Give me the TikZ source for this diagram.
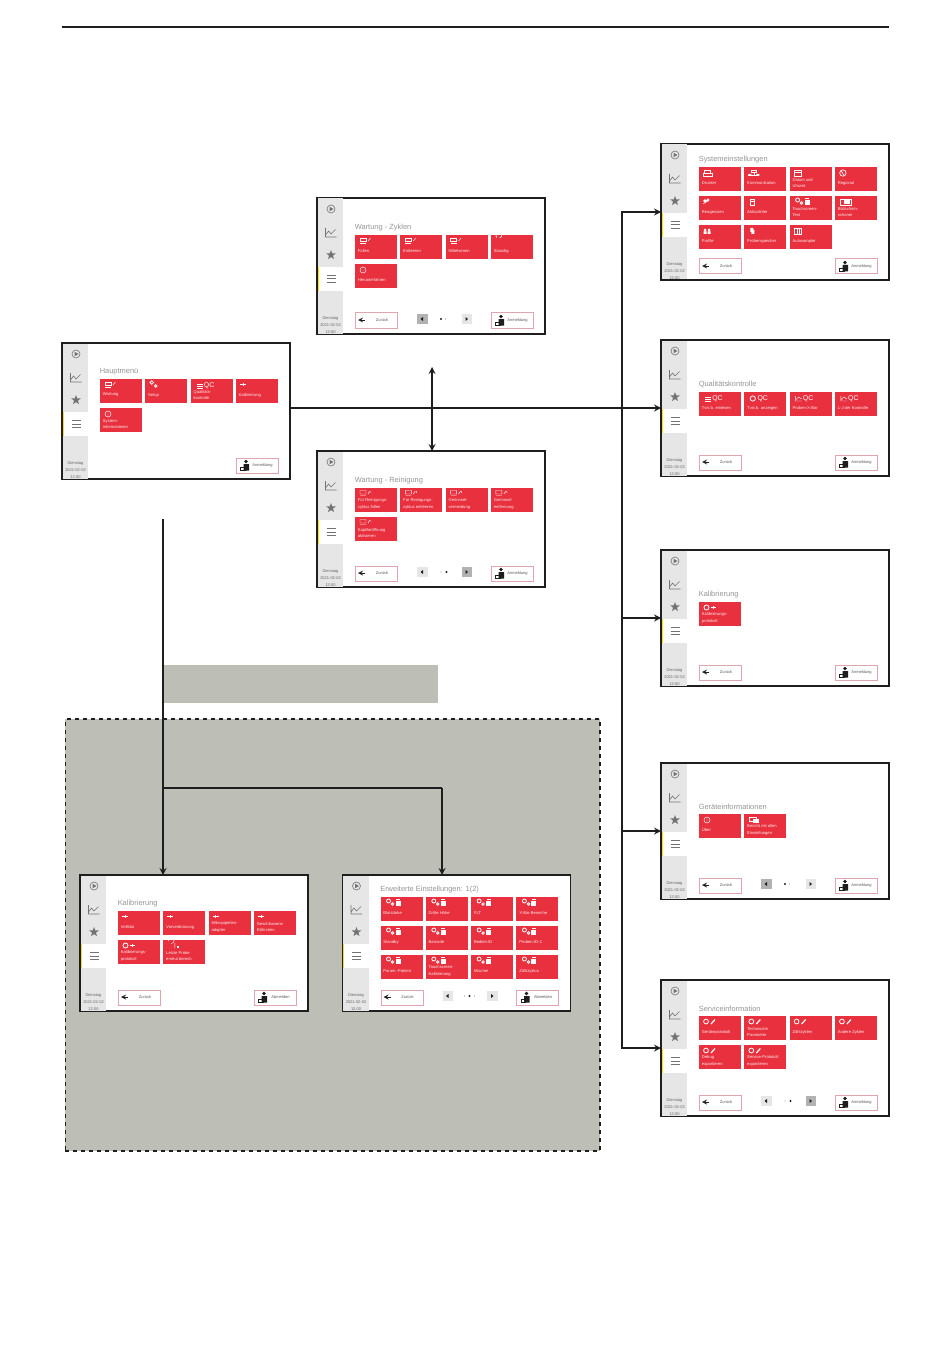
\documentclass[tikz,border=0pt]{standalone}
\usepackage{fontspec}
\setmainfont{Liberation Sans}
\usepackage{xcolor}
\usetikzlibrary{shapes,arrows,calc}
\definecolor{tilecolor}{RGB}{232,48,62}
\definecolor{sidecolor}{RGB}{230,230,230}
\definecolor{panelcolor}{RGB}{189,191,183}
\definecolor{titlecolor}{RGB}{150,150,150}
\definecolor{btncolor}{RGB}{225,165,175}
\definecolor{inkcolor}{RGB}{30,30,30}

\tikzset{
    screenbox/.style={rectangle, draw=inkcolor, fill=white, line width=0.8pt, anchor=north west, inner sep=0pt, outer sep=0pt, minimum width=171pt, minimum height=102pt},
    tilebox/.style={rectangle, fill=tilecolor, anchor=north west, inner sep=0pt, outer sep=0pt, minimum width=31.5pt, minimum height=18pt},
    tilelabel/.style={anchor=west, inner sep=0pt, align=left, text=white!92!tilecolor, font=\fontsize{3.1}{4.9}\selectfont},
    titlelabel/.style={anchor=west, inner sep=0pt, text=titlecolor, font=\fontsize{5.6}{6}\selectfont},
    datelabel/.style={inner sep=0pt, align=center, text=black!60, font=\fontsize{3}{5}\selectfont},
    btnbox/.style={rectangle, draw=btncolor, fill=white, line width=0.5pt, anchor=north west, inner sep=0pt, minimum width=31.5pt, minimum height=11.25pt},
    btnlabel/.style={inner sep=0pt, text=black!65, font=\fontsize{3}{4}\selectfont},
    pagebox/.style={rectangle, anchor=north west, inner sep=0pt, minimum width=7.8pt, minimum height=7.5pt},
    qclabel/.style={anchor=west, inner sep=0pt, text=white, font=\fontsize{5.2}{6}\selectfont},
    arrow/.style={->, >=stealth, line width=1.3pt, draw=inkcolor},
    wire/.style={line width=1.3pt, draw=inkcolor},
    icon/.style={draw=white, line width=0.35pt},
    side/.style={draw=black!55, line width=0.45pt},
    % icons on the tiles
    icomaint/.pic={\draw[icon] (5,3) rectangle (11,6.5) (5,8) -- (11,8); \fill[white] (5,3) rectangle (11,4.2); \draw[icon] (13,6) -- (15.5,3);},
    icowash/.pic={\draw[icon] (5,2.5) rectangle (11,6) (5,7.5) -- (11,7.5) (13,6) -- (15,3) (16,3) -- (16,5);},
    icogears/.pic={\draw[icon, line width=0.6pt] (6.5,3.5) circle (1.8) (10.5,7) circle (1.3);},
    icogearbox/.pic={\draw[icon, line width=0.6pt] (8,4) circle (2) (12,7) circle (1.3); \fill[white] (15,4) rectangle (20,9); \draw[icon] (15.5,2.5) -- (19.5,2.5);},
    icolines/.pic={\draw[icon] (6,5) -- (12,5) (6,7) -- (12,7) (6,9) -- (12,9); \node[qclabel] (qc) at (13,6.5) {QC};},
    icoround/.pic={\draw[icon, line width=0.6pt] (8.5,6.5) circle (2.6); \node[qclabel] (qc) at (13,6.5) {QC};},
    icoplot/.pic={\draw[icon] (6,4) -- (6,9) -- (12,9) (6,8) -- (9,5) -- (12,7); \node[qclabel] (qc) at (13,6.5) {QC};},
    icocal/.pic={\draw[icon] (4,5) -- (10,5) (7,3.5) -- (7,6.5);},
    icocalprot/.pic={\draw[icon, line width=0.6pt] (7.5,5.5) circle (2.5); \draw[icon] (11.5,5.5) -- (17,5.5) (14,4) -- (14,7);},
    icorepeat/.pic={\draw[icon] (8,3.5) arc (90:-190:2.8) (11.5,3) -- (11.5,8); \fill[white] (14,6) rectangle (16,8);},
    icoinfo/.pic={\draw[icon] (8,6) circle (3) (8,5.3) -- (8,7.5) (8,4) -- (8,4.5);},
    icostandby/.pic={\draw[icon, line width=0.5pt] (9,3) arc (70:-230:3);},
    icowrench/.pic={\draw[icon, line width=0.6pt] (7,5.5) circle (2.4); \draw[icon, line width=0.9pt] (12,8) -- (16,3.5);},
    icoprinter/.pic={\draw[icon] (5.5,3) rectangle (11,6) (4,6) rectangle (13,9);},
    iconet/.pic={\draw[icon] (7,3) rectangle (12,5) (4,8) -- (15,8) (9.5,5) -- (9.5,8); \fill[white] (4,7) rectangle (7,9) (12,7) rectangle (15,9);},
    icocalendar/.pic={\draw[icon] (5,3) rectangle (12,9) (5,5) -- (12,5);},
    icoglobe/.pic={\draw[icon, line width=0.5pt] (8,6) circle (3.2) (6,3.5) -- (9,8);},
    icoflask/.pic={\fill[white] (6,5) circle (1.8) (9,4) circle (1.6); \draw[icon] (4,8) -- (9,5);},
    icocounter/.pic={\draw[icon] (6,3) rectangle (10,9) (6,5) -- (10,5);},
    icoscreen/.pic={\draw[icon] (5,3) rectangle (16,9); \fill[white] (9,4) rectangle (15,8);},
    icopeople/.pic={\fill[white] (6,5) circle (1.5) (10,5) circle (1.5) (4.5,9) rectangle (7.5,6.5) (8.5,9) rectangle (11.5,6.5);},
    icodrop/.pic={\fill[white] (6,3) rectangle (9,7) (7,5) rectangle (10,9);},
    icorack/.pic={\draw[icon] (5,3) rectangle (12,9) (7.3,3) -- (7.3,9) (9.6,3) -- (9.6,9);},
    icoreport/.pic={\draw[icon] (5,3) rectangle (12,7); \fill[white] (9,5) rectangle (15,9);},
}

% one red tile: column, row, icon, label
\newcommand{\tile}[4]{%
    \node[tilebox] (\scrname-#1-#2) at ({38+45.3*#1},{\tiletop+29*#2}) {};
    \pic at (\scrname-#1-#2.north west) {#3};
    \node[tilelabel] (\scrname-#1-#2-text) at ([shift={(2pt,-3pt)}]\scrname-#1-#2.west) {#4};
}
\newcommand{\backbtn}{%
    \node[btnbox] (\scrname-back) at (38,114.5) {};
    \draw[line width=0.7pt, ->, >=stealth, draw=inkcolor] (48,122) -- (41,122);
    \node[btnlabel] (\scrname-backtext) at (65,122) {Zurück};
}
\newcommand{\outbtn}[1]{%
    \node[btnbox] (\scrname-out) at (173.5,114.5) {};
    \draw[draw=inkcolor, line width=0.3pt] (178.5,124) rectangle (183,127.5);
    \fill[inkcolor] (184,118.5) circle (1.9) (181.5,121) rectangle (187,127.5);
    \node[btnlabel] (\scrname-outtext) at (200.5,122) {#1};
}
% pager: colour left, colour right, dots as x/radius
\newcommand{\pager}[3]{%
    \node[pagebox, fill=#1] (\scrname-prev) at (100,116) {};
    \node[pagebox, fill=#2] (\scrname-next) at (144.5,116) {};
    \fill[inkcolor] (103.5,121) -- (106,119) -- (106,123) -- cycle;
    \fill[inkcolor] (151,121) -- (148.5,119) -- (148.5,123) -- cycle;
    \foreach \dotx/\dotr in {#3} {\fill[inkcolor] (\dotx,121) circle (\dotr);}
}
% screen: name, left, top, top of the tiles, title, body
\newcommand{\screen}[6]{%
\begin{scope}[shift={(#2,#3)}]
    \def\scrname{#1}
    \def\tiletop{#4}
    \node[screenbox] (#1) at (0,0) {};
    \fill[sidecolor] (0.5,0.5) rectangle (26,69);
    \fill[sidecolor] (0.5,93) rectangle (26,135.5);
    \fill[yellow!80!orange] (0.5,69) rectangle (1.6,93);
    \draw[side] (14,11) circle (4);
    \fill[black!55] (12.6,8.8) -- (16.6,11) -- (12.6,13.2) -- cycle;
    \draw[side] (8.5,30) -- (8.5,39) -- (19.5,39) (8.5,37) -- (11.5,33) -- (14,36) -- (18.5,31.5);
    \node[star, star points=5, star point ratio=2.4, fill=black!55, inner sep=0pt, minimum size=7.5pt] (#1-star) at (14,57) {};
    \draw[side] (9.5,77.5) -- (18.5,77.5) (9.5,80.8) -- (18.5,80.8) (9.5,84) -- (18.5,84);
    \node[datelabel] (#1-date) at (13.5,127) {Dienstag\\2021-02-02\\12:00};
    \node[titlelabel] (#1-title) at (37.5,{#4-7.5}) {#5};
    #6
\end{scope}
}

\begin{document}
\begin{tikzpicture}[x=0.75pt, y=-0.75pt]
\useasboundingbox (0,0) rectangle (950,1369);

% Header rule
\coordinate (ruleleft) at (62,27);
\coordinate (ruleright) at (889,27);
\draw[wire] (ruleleft) -- (ruleright);

% Grey areas
\node[rectangle, fill=panelcolor, anchor=north west, inner sep=0pt, minimum width=205pt, minimum height=28pt] (banner) at (164,665) {};
\node[rectangle, fill=panelcolor, draw=inkcolor, line width=1.4pt, dashed, anchor=north west, inner sep=0pt, minimum width=401pt, minimum height=324pt] (panel) at (64.5,718) {};

% Main menu
\screen{hauptmenu}{62}{343}{36}{Hauptmenü}{
    \tile{0}{0}{icomaint}{Wartung}
    \tile{1}{0}{icogears}{Setup}
    \tile{2}{0}{icolines}{Qualitäts-\\kontrolle}
    \tile{3}{0}{icocal}{Kalibrierung}
    \tile{0}{1}{icoinfo}{System-\\informationen}
    \outbtn{Anmeldung}
}

% Maintenance
\screen{zyklen}{317}{198}{37}{Wartung - Zyklen}{
    \tile{0}{0}{icomaint}{Füllen}
    \tile{1}{0}{icomaint}{Entleeren}
    \tile{2}{0}{icomaint}{Mittelvenen}
    \tile{3}{0}{icostandby}{Standby}
    \tile{0}{1}{icoinfo}{Herunterfahren}
    \backbtn
    \pager{black!30}{sidecolor}{124/1.1,128.5/0.4}
    \outbtn{Anmeldung}
}
\screen{reinigung}{317}{451}{37}{Wartung - Reinigung}{
    \tile{0}{0}{icowash}{Für Reinigungs-\\zyklus füllen}
    \tile{1}{0}{icowash}{Für Reinigungs-\\zyklus entleeren}
    \tile{2}{0}{icowash}{Gerinnsel-\\vermeidung}
    \tile{3}{0}{icowash}{Gerinnsel\\entfernung}
    \tile{0}{1}{icowash}{Kapillaröffnung\\aktivieren}
    \backbtn
    \pager{sidecolor}{black!30}{124/0.4,129.5/1.1}
    \outbtn{Anmeldung}
}

% Right column
\screen{system}{661}{144}{23}{Systemeinstellungen}{
    \tile{0}{0}{icoprinter}{Drucker}
    \tile{1}{0}{iconet}{Kommunikation}
    \tile{2}{0}{icocalendar}{Datum und\\Uhrzeit}
    \tile{3}{0}{icoglobe}{Regional}
    \tile{0}{1}{icoflask}{Reagenzien}
    \tile{1}{1}{icocounter}{Aktivzähler}
    \tile{2}{1}{icogearbox}{Touchscreen-\\Test}
    \tile{3}{1}{icoscreen}{Bildschirm-\\schoner}
    \tile{0}{2}{icopeople}{Profile}
    \tile{1}{2}{icodrop}{Probenspeicher}
    \tile{2}{2}{icorack}{Autosampler}
    \backbtn
    \outbtn{Anmeldung}
}
\screen{qualitaet}{661}{340}{52}{Qualitätskontrolle}{
    \tile{0}{0}{icolines}{Tvis b. einlesen}
    \tile{1}{0}{icoround}{Tvis b. anzeigen}
    \tile{2}{0}{icoplot}{Proben-X-Bar}
    \tile{3}{0}{icoplot}{L-J der Kontrolle}
    \backbtn
    \outbtn{Anmeldung}
}
\screen{kalibrierung}{661}{550}{52}{Kalibrierung}{
    \tile{0}{0}{icocalprot}{Kalibrierungs-\\protokoll}
    \backbtn
    \outbtn{Anmeldung}
}
\screen{geraet}{661}{763}{51}{Geräteinformationen}{
    \tile{0}{0}{icoinfo}{Über}
    \tile{1}{0}{icoreport}{Bericht mit allen\\Einstellungen}
    \backbtn
    \pager{black!30}{sidecolor}{124/1.1,128.5/0.4}
    \outbtn{Anmeldung}
}
\screen{service}{661}{980}{36}{Serviceinformation}{
    \tile{0}{0}{icowrench}{Geräteprotokoll}
    \tile{1}{0}{icowrench}{Technische\\Parameter}
    \tile{2}{0}{icowrench}{Zählzyklen}
    \tile{3}{0}{icowrench}{Andere Zyklen}
    \tile{0}{1}{icowrench}{Debug\\exportieren}
    \tile{1}{1}{icowrench}{Service-Protokoll\\exportieren}
    \backbtn
    \pager{sidecolor}{black!30}{124/0.4,129.5/1.1}
    \outbtn{Anmeldung}
}

% Inside the grey panel
\screen{kalpanel}{80}{875}{36}{Kalibrierung}{
    \tile{0}{0}{icocal}{Vollblut}
    \tile{1}{0}{icocal}{Vorverdünnung}
    \tile{2}{0}{icocal}{Mikropipetten-\\adapter}
    \tile{3}{0}{icocal}{Geschlossene\\Röhrchen}
    \tile{0}{1}{icocalprot}{Kalibrierungs-\\protokoll}
    \tile{1}{1}{icorepeat}{Letzte Probe\\erneut berech.}
    \backbtn
    \outbtn{Abmelden}
}
\screen{erweitert}{342.5}{875}{22}{Erweiterte Einstellungen: 1(2)}{
    \tile{0}{0}{icogearbox}{Blutstärke}
    \tile{1}{0}{icogearbox}{Dritte Höhe}
    \tile{2}{0}{icogearbox}{FLT}
    \tile{3}{0}{icogearbox}{X-Bio-Bereiche}
    \tile{0}{1}{icogearbox}{Standby}
    \tile{1}{1}{icogearbox}{Barcode}
    \tile{2}{1}{icogearbox}{Bedien-ID}
    \tile{3}{1}{icogearbox}{Proben-ID-2}
    \tile{0}{2}{icogearbox}{Param.-Patient}
    \tile{1}{2}{icogearbox}{Touchscreen-\\Kalibrierung}
    \tile{2}{2}{icogearbox}{Mischer}
    \tile{3}{2}{icogearbox}{Zählzyklus}
    \backbtn
    \pager{sidecolor}{sidecolor}{122/0.4,127/1.1,132/0.4}
    \outbtn{Abmelden}
}

% Main line to the right column
\coordinate (bus) at (622,408);
\draw[wire] (hauptmenu.east |- bus) -- (bus);
\draw[arrow] (bus) -- (qualitaet.west |- bus);
\draw[arrow] (bus) |- (system.west);
\draw[arrow] (bus) |- (kalibrierung.west);
\draw[arrow] (bus) |- (geraet.west);
\draw[arrow] (bus) |- (service.west);

% Maintenance arrows
\coordinate (washup) at (432,367);
\draw[arrow, <->] (washup) -- (washup |- reinigung.north);

% Down to the panel
\coordinate (kaltop) at (163,519);
\coordinate (kalbranch) at (163,788);
\coordinate (erwtop) at (442,788);
\draw[arrow] (kaltop) -- (kaltop |- kalpanel.north);
\draw[wire] (kalbranch) -- (erwtop);
\draw[arrow] (erwtop) -- (erwtop |- erweitert.north);

\end{tikzpicture}
\end{document}
